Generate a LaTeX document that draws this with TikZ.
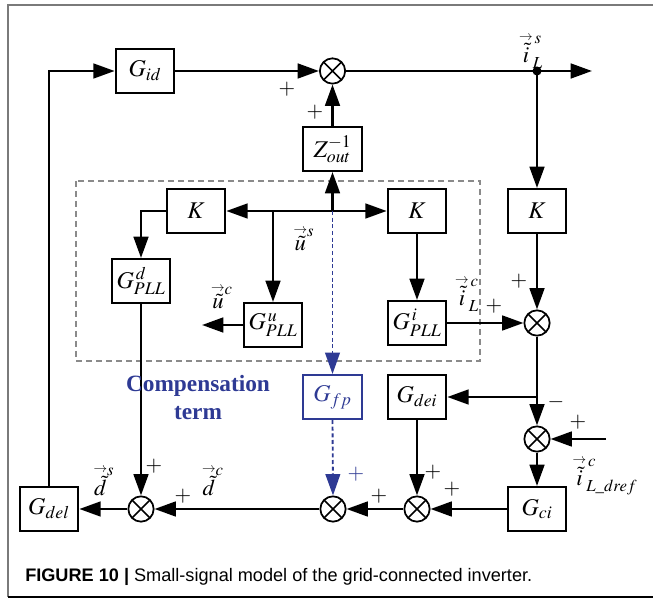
\documentclass[tikz,border=0pt]{standalone}
\usepackage{amsmath}
\usepackage{mathptmx}
\usepackage[no-math]{fontspec}
\setmainfont{Liberation Serif}
\newfontfamily\capfont{Liberation Sans}
\usepackage{tikz}
\usetikzlibrary{arrows.meta,positioning,calc}
\definecolor{comp}{HTML}{2E3A94}
\definecolor{framegray}{HTML}{7A7A7A}
\definecolor{boxgray}{HTML}{8A8A8A}
\newcommand{\vtil}[1]{\overset{\smash{\raisebox{-1pt}{$\scriptscriptstyle\rightarrow$}}}{\tilde{#1}}}

\begin{document}
\begin{tikzpicture}[x=0.75pt,y=-0.75pt,
  blk/.style={draw,line width=1.5pt,minimum width=44pt,minimum height=33pt,inner sep=0pt,font=\fontsize{18}{21}\selectfont},
  sum/.style={draw,circle,line width=1.3pt,minimum size=19pt,inner sep=0pt,
    path picture={\draw[line width=1.3pt] (path picture bounding box.north west)--(path picture bounding box.south east)
      (path picture bounding box.north east)--(path picture bounding box.south west);}},
  sig/.style={line width=2pt,-{Triangle[length=16pt,width=11pt]}},
  wire/.style={line width=2pt},
  lbl/.style={font=\fontsize{17}{19}\selectfont},
  sgn/.style={font=\fontsize{16}{18}\selectfont}]
  \useasboundingbox (0,0) rectangle (653,598);
  % frame
  \draw[framegray,line width=1.3pt] (8,597)--(8,5)--(653,5);
  \draw[line width=1.5pt] (8,597)--(653,597);

  % forward path
  \node[blk] (Gid) at (145,71) {$G_{id}$};
  \node[sum] (S1) at (332.5,71) {};
  \node[blk] (Zout) at (332.5,149) {$Z_{out}^{-1}$};
  \coordinate (J) at (537,71);
  \coordinate (out) at (592,71);
  \fill (J) circle (3.4pt);

  % PLL part
  \draw[boxgray,dashed,line width=1.6pt,dash pattern=on 4.5pt off 3pt] (76,181) rectangle (480,361);
  \node[blk] (Kl) at (196,211) {$K$};
  \node[blk] (Km) at (417,211) {$K$};
  \node[blk] (Kr) at (537,211) {$K$};
  \coordinate (us) at (332.5,211);
  \node[blk] (Gd) at (141,281) {$G_{PLL}^{\,d}$};
  \node[blk] (Gu) at (273,325) {$G_{PLL}^{\,u}$};
  \node[blk] (Gi) at (417,323) {$G_{PLL}^{\,i}$};
  \coordinate (uc) at (202,325);
  \node[sum] (S2) at (537,323) {};

  % compensation and current loop
  \node[blk,draw=comp,text=comp] (Gfp) at (332.5,397) {$G_{fp}$};
  \node[blk] (Gdei) at (417,397) {$G_{dei}$};
  \coordinate (bp) at (537,397);
  \node[sum] (S3) at (537,439) {};
  \coordinate (iref) at (606,439);
  \node[blk] (Gci) at (537,509) {$G_{ci}$};
  \node[sum] (S4) at (417,509) {};
  \node[sum] (S5) at (333,509) {};
  \node[sum] (S6) at (141,509) {};
  \node[blk] (Gdel) at (49,509) {$G_{del}$};

  % connectors
  \draw[sig] (Gdel.north) |- (Gid.west);
  \draw[sig] (Gid.east) -- (S1.west);
  \draw[sig] (Zout.north) -- (S1.south);
  \draw[sig] (S1.east) -- (out);
  \draw[sig] (J) -- (Kr.north);
  \draw[sig] (us) -- (Zout.south);
  \draw[sig] (us) -- (Kl.east);
  \draw[sig] (us) -- (Km.west);
  \draw[sig] (us -| Gu.north) -- (Gu.north);
  \draw[sig] (Kl.west) -| (Gd.north);
  \draw[sig] (Km.south) -- (Gi.north);
  \draw[sig] (Gu.west) -- (uc);
  \draw[sig] (Gi.east) -- (S2.west);
  \draw[sig] (Kr.south) -- (S2.north);
  \draw[wire] (S2.south) -- (bp);
  \draw[sig] (bp) -- (Gdei.east);
  \draw[sig] (bp) -- (S3.north);
  \draw[sig] (iref) -- (S3.east);
  \draw[sig] (S3.south) -- (Gci.north);
  \draw[sig] (Gci.west) -- (S4.east);
  \draw[sig] (S4.west) -- (S5.east);
  \draw[sig] (S5.west) -- (S6.east);
  \draw[sig] (S6.west) -- (Gdel.east);
  \draw[sig] (Gdei.south) -- (S4.north);
  \draw[sig] (Gd.south) -- (S6.north);
  \draw[sig,comp,dashed,line width=1.4pt,dash pattern=on 3pt off 2pt] (us) -- (Gfp.north);
  \draw[sig,comp,dashed,line width=1.4pt,dash pattern=on 3pt off 2pt] (Gfp.south) -- (S5.north);

  % signal labels
  \node[lbl] (iLs) at (531,52) {$\vtil{i}_{L}^{\,s}$};
  \node[lbl] (uS) at (304,240) {$\vtil{u}^{s}$};
  \node[lbl] (uC) at (222,298) {$\vtil{u}^{c}$};
  \node[lbl] (iLc) at (467,295) {$\vtil{i}_{L}^{\,c}$};
  \node[lbl] (dS) at (104,482) {$\vtil{d}^{s}$};
  \node[lbl] (dC) at (213,482) {$\vtil{d}^{c}$};
  \node[lbl] (iref lbl) at (605,477) {$\vtil{i}_{L\_dref}^{\,c}$};

  % signs
  \node[sgn] at (287,89) {$+$};
  \node[sgn] at (315,112) {$+$};
  \node[sgn] at (494,306) {$+$};
  \node[sgn] at (519,281) {$+$};
  \node[sgn] at (556,402) {$-$};
  \node[sgn] at (578,422) {$+$};
  \node[sgn] at (154,466) {$+$};
  \node[sgn] at (183,496) {$+$};
  \node[sgn,comp] at (356,474) {$+$};
  \node[sgn] at (379,496) {$+$};
  \node[sgn] at (433,472) {$+$};
  \node[sgn] at (452,489) {$+$};

  % compensation label
  \node[comp,font=\fontsize{17.5}{21}\selectfont\bfseries,align=center] (ct) at (198,398) {Compensation\\term};

  % caption
  \node[anchor=west,inner sep=0pt,font=\capfont\fontsize{13.6}{15}\selectfont] (cap) at (25,577)
    {\textbf{FIGURE 10} \textbf{|} Small-signal model of the grid-connected inverter.};
\end{tikzpicture}
\end{document}
